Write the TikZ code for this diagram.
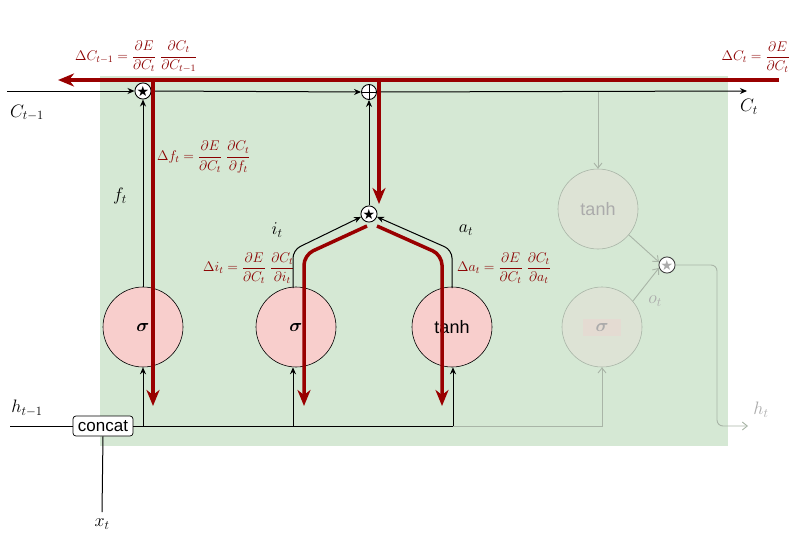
\documentclass[tikz,border=0pt]{standalone}
\usepackage{fix-cm}
\usepackage{amsmath}
\usepackage{fontspec}
\setsansfont{Liberation Sans}
\newfontfamily\symfont{DejaVu Sans}
\usetikzlibrary{arrows.meta}
\definecolor{cellgreen}{HTML}{D5E8D4}
\definecolor{gatepink}{HTML}{F8CECC}
\definecolor{gradred}{HTML}{990000}
\definecolor{gradtext}{HTML}{8B0000}
\definecolor{fadeline}{HTML}{A9B5A7}
\definecolor{fadefill}{HTML}{DDE3D5}
\definecolor{fadetext}{HTML}{ABABAB}
\definecolor{fadepink}{HTML}{E4DBD2}
\tikzset{
  gate/.style={circle, draw=black, fill=gatepink, minimum size=80pt, inner sep=0pt, line width=0.6pt, font=\fontsize{18}{20}\selectfont},
  fgate/.style={circle, draw=fadeline, fill=fadefill, minimum size=80pt, inner sep=0pt, line width=0.6pt, text=fadetext, font=\fontsize{18}{20}\selectfont},
  opnode/.style={circle, draw=black, fill=white, minimum size=15pt, inner sep=0pt, line width=0.9pt},
  blk/.style={draw=black, line width=1pt},
  blkarrow/.style={blk, -{Stealth[length=7pt,width=6pt]}},
  fadearrow/.style={draw=fadeline, line width=0.9pt, -{Straight Barb[length=5pt,width=8pt]}},
  gradarrow/.style={draw=gradred, line width=3.5pt, -{Stealth[length=16pt,width=13pt,inset=5pt]}},
  biglabel/.style={inner sep=0pt, font=\fontsize{18}{20}\selectfont},
  fadelabel/.style={biglabel, text=fadetext},
  gradlabel/.style={inner sep=0pt, text=gradtext, font=\fontsize{14}{16}\selectfont},
  startext/.style={font=\symfont\fontsize{14}{14}\selectfont},
}
\begin{document}
\begin{tikzpicture}[x=1pt,y=-1pt]
\useasboundingbox (0,0) rectangle (792,538);
% cell background
\fill[cellgreen] (100,76) rectangle (728,446);

% gates
\node[gate] (sig1) at (143,327) {$\boldsymbol{\sigma}$};
\node[gate] (sig2) at (296,327) {$\boldsymbol{\sigma}$};
\node[gate] (tanhA) at (452,327) {\sffamily tanh};
\node[fgate] (sigo) at (602,327) {};
\node[fill=fadepink, minimum width=38pt, minimum height=17pt, inner sep=0pt, text=fadetext, font=\fontsize{18}{20}\selectfont] (sigolab) at (602,327) {$\boldsymbol{\sigma}$};
\node[fgate] (tanhC) at (598,209) {\sffamily tanh};

% pointwise operations
\node[opnode, startext] (mulf) at (143,91) {★};
\node[opnode, path picture={\draw[line width=0.9pt] (path picture bounding box.north) -- (path picture bounding box.south) (path picture bounding box.west) -- (path picture bounding box.east);}] (plus) at (369,92) {};
\node[opnode, startext] (multia) at (369,214) {★};
\node[opnode, draw=black!75, text=fadetext, startext] (mulo) at (667,265) {★};

\node[draw=black, fill=white, rounded corners=3pt, line width=0.7pt, minimum width=60pt, minimum height=20pt, inner sep=1pt, font=\sffamily\fontsize{17}{18}\selectfont] (concat) at (103,426) {concat};

% labels
\node[biglabel] (lCprev) at (27,113) {$C_{t-1}$};
\node[biglabel] (lC) at (749,107) {$C_t$};
\node[biglabel] (lhprev) at (27,408) {$h_{t-1}$};
\node[biglabel] (lx) at (102,524) {$x_t$};
\node[biglabel] (lf) at (120,196) {$f_t$};
\node[biglabel] (li) at (277,230) {$i_t$};
\node[biglabel] (la) at (466,230) {$a_t$};
\node[fadelabel] (lo) at (655,301) {$o_t$};
\node[fadelabel] (lh) at (761,410) {$h_t$};

% gradient labels
\node[gradlabel, anchor=west] (gC1) at (75,57) {$\Delta C_{t-1} = \dfrac{\partial E}{\partial C_t}\;\dfrac{\partial C_t}{\partial C_{t-1}}$};
\node[gradlabel, anchor=east] (gC) at (790,57) {$\Delta C_{t} = \dfrac{\partial E}{\partial C_t}$};
\node[gradlabel, anchor=west] (gf) at (157,157) {$\Delta f_{t} = \dfrac{\partial E}{\partial C_t}\;\dfrac{\partial C_t}{\partial f_t}$};
\node[gradlabel, anchor=west] (gi) at (203,268) {$\Delta i_{t} = \dfrac{\partial E}{\partial C_t}\;\dfrac{\partial C_t}{\partial i_t}$};
\node[gradlabel, anchor=west] (ga) at (457,268) {$\Delta a_{t} = \dfrac{\partial E}{\partial C_t}\;\dfrac{\partial C_t}{\partial a_t}$};

% coordinates
\coordinate (cstart) at (7,91);
\coordinate (cend) at (747,91);
\coordinate (hstart) at (10,426);
\coordinate (xend) at (102,512);
\coordinate (jf) at (143,426);
\coordinate (ji) at (293,426);
\coordinate (ja) at (453,426);
\coordinate (jo) at (602,426);
\coordinate (ibase) at (293,288);
\coordinate (ibend) at (293,250);
\coordinate (abase) at (452,288);
\coordinate (abend) at (452,250);
\coordinate (cdrop) at (598,91);
\coordinate (ho1) at (717,265);
\coordinate (ho2) at (717,426);
\coordinate (htend) at (748,426);

% faded connections
\draw[fadearrow] (cdrop) -- (tanhC.north);
\draw[fadearrow] (tanhC.-40) -- (mulo.160);
\draw[fadearrow] (sigo.40) -- (mulo.200);
\draw[fadearrow] (ja) -- (jo) -- (sigo.south);
\draw[fadearrow, rounded corners=6pt] (mulo.east) -- (ho1) -- (ho2) -- (htend);

% black connections
\draw[blkarrow] (cstart) -- (mulf.west);
\draw[blkarrow] (mulf.east) -- (plus.west);
\draw[blkarrow] (plus.east) -- (cend);
\draw[blk] (hstart) -- (concat.west);
\draw[blk] (concat.east) -- (ja);
\draw[blk] (concat.south) -- (xend);
\draw[blkarrow] (jf) -- (sig1.south);
\draw[blkarrow] (ji) -- (ji |- sig2.south);
\draw[blkarrow] (ja) -- (ja |- tanhA.south);
\draw[blkarrow] (sig1.north) -- (mulf.south);
\draw[blkarrow, rounded corners=8pt] (ibase) -- (ibend) -- (multia.200);
\draw[blkarrow, rounded corners=8pt] (abase) -- (abend) -- (multia.-20);
\draw[blkarrow] (multia.north) -- (plus.south);

% gradient flow
\coordinate (rs) at (779,80);
\coordinate (re) at (58,80);
\coordinate (rf1) at (153,82);
\coordinate (rf2) at (153,406);
\coordinate (rp1) at (379,80);
\coordinate (rp2) at (379,204);
\coordinate (ri1) at (367,226);
\coordinate (ri2) at (304,255);
\coordinate (ri3) at (304,406);
\coordinate (ra1) at (377,226);
\coordinate (ra2) at (442,255);
\coordinate (ra3) at (442,406);
\draw[gradarrow] (rs) -- (re);
\draw[gradarrow] (rf1) -- (rf2);
\draw[gradarrow] (rp1) -- (rp2);
\draw[gradarrow, rounded corners=10pt] (ri1) -- (ri2) -- (ri3);
\draw[gradarrow, rounded corners=10pt] (ra1) -- (ra2) -- (ra3);
\end{tikzpicture}
\end{document}
